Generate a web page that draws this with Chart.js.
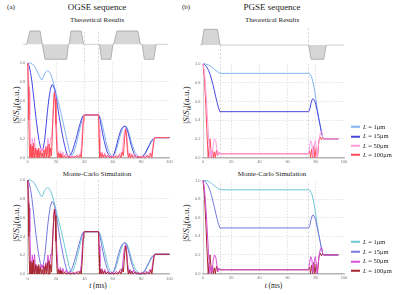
<!DOCTYPE html>
<html>
<head>
<meta charset="utf-8">
<script src="https://cdn.jsdelivr.net/npm/chart.js@4.4.1/dist/chart.umd.min.js"></script>
<style>
  body { margin:0; width:400px; height:295px; background:#fff; position:relative; overflow:hidden; font-family:"Liberation Serif", "DejaVu Serif", serif; color:#222; }
  canvas { position:absolute; }
  .txt { position:absolute; white-space:nowrap; line-height:1; transform:translate(-50%,-50%); }
  .ytitle { position:absolute; white-space:nowrap; line-height:1; font-size:9px; transform:translate(-50%,-50%) rotate(-90deg); }
  .ytitle sub { font-size:70%; line-height:0; }
  .leg { position:absolute; left:351px; font-size:6.5px; line-height:1; display:flex; align-items:center; transform:translateY(-50%); white-space:nowrap; }
  .sw { display:inline-block; width:9px; height:2px; margin-right:3px; }
</style>
</head>
<body>
<div class="txt" style="left:11px;top:7px;font-size:7px">(a)</div>
<div class="txt" style="left:186px;top:7px;font-size:7px">(b)</div>
<div class="txt" style="left:97px;top:7px;font-size:9px">OGSE sequence</div>
<div class="txt" style="left:272px;top:7px;font-size:9px">PGSE sequence</div>
<div class="txt" style="left:97px;top:20px;font-size:7px">Theoretical Results</div>
<div class="txt" style="left:272px;top:20px;font-size:7px">Theoretical Results</div>
<div class="txt" style="left:97px;top:174px;font-size:7px">Monte-Carlo Simulation</div>
<div class="txt" style="left:272px;top:174px;font-size:7px">Monte-Carlo Simulation</div>
<div class="ytitle" style="left:15.5px;top:105px">|<i>S</i>/<i>S</i><sub>0</sub>|(a.u.)</div>
<div class="ytitle" style="left:15.5px;top:223px">|<i>S</i>/<i>S</i><sub>0</sub>|(a.u.)</div>
<div class="ytitle" style="left:186px;top:105px">|<i>S</i>/<i>S</i><sub>0</sub>|(a.u.)</div>
<div class="ytitle" style="left:186px;top:223px">|<i>S</i>/<i>S</i><sub>0</sub>|(a.u.)</div>
<div class="txt" style="left:98px;top:286px;font-size:7.5px"><i>t</i> (ms)</div>
<div class="txt" style="left:273.5px;top:286px;font-size:7.5px"><i>t</i> (ms)</div>

<canvas id="seqA" width="148" height="36" style="left:22px;top:26px"></canvas>
<canvas id="seqB" width="146" height="36" style="left:200px;top:26px"></canvas>
<canvas id="ogseTh" width="180" height="115" style="left:0px;top:55px"></canvas>
<canvas id="pgseTh" width="175" height="115" style="left:180px;top:55px"></canvas>
<canvas id="ogseMc" width="180" height="125" style="left:0px;top:170px"></canvas>
<canvas id="pgseMc" width="175" height="125" style="left:180px;top:170px"></canvas>

<script>
// ticks and labels
const xTicks = [0, 20, 40, 60, 80, 100];
const yTicks = [0, 0.2, 0.4, 0.6, 0.8, 1.0];
const yTickLabels = ['0.0', '0.2', '0.4', '0.6', '0.8', '1.0'];
const lengths = ['1μm', '15μm', '50μm', '100μm'];

const theoryColors = ['#80b3f2', '#4747e0', '#ff9ddf', '#ff4b55'];
const mcColors = ['#6cc7d4', '#7777de', '#d84fd8', '#a8262e'];

// gradient waveforms (t in ms, amplitude a.u.)
const ogseSeqT = [-3.1, -0.7, 1.6, 8.7, 10.3, 12.2, 27.5, 28.7, 29.2, 30.6, 37.7, 39.4, 50.7, 52, 58.6, 60.1, 60.6, 63, 77.6, 79.5, 80.7, 82.3, 88.9, 90.6, 99];
const ogseSeqG = [0, 0, 0.95, 0.95, 0, -1.07, -1.07, 0, 0, 0.95, 0.95, 0, 0, -1.07, -1.07, 0, 0, 0.95, 0.95, 0, 0, -1.07, -1.07, 0, 0];
const pgseSeqT = [-2.1, -0.9, 0.7, 10.2, 12.1, 74.9, 76.6, 85.6, 87.4, 100];
const pgseSeqG = [0, 0, 1.12, 1.12, 0, 0, -1.02, -1.02, 0, 0];
// dashed markers: [t, from, to]
const ogseSeqMarks = [[40, 0.9, -1.3], [50, 0.9, -1.3]];
const pgseSeqMarks = [[12.4, 0, -1.25], [74.8, 1.2, 0]];
const ogseMarks = [50];
const pgseMarks = [12.4, 74.8];

// OGSE |S/S0|, [t, value]
const ogseL1 = [[0,1],[2,1],[3,0.99],[4,0.98],[5,0.96],[6,0.93],[7,0.9],[8,0.87],[9,0.84],[10,0.82],[11,0.85],[12,0.89],[13,0.91],[14,0.92],[15,0.91],[16,0.89],[17,0.85],[18,0.8],[19,0.74],[20,0.68],[21,0.62],[22,0.56],[23,0.5],[24,0.44],[25,0.37],[26,0.3],[27,0.23],[28,0.16],[29,0.09],[30,0.04],[31,0.02],[32,0.04],[33,0.08],[34,0.13],[35,0.19],[36,0.25],[37,0.32],[38,0.38],[39,0.43],[40,0.45],[50,0.45],[51,0.43],[52,0.38],[53,0.32],[54,0.25],[55,0.18],[56,0.12],[57,0.07],[58,0.04],[59,0.02],[60,0.01],[61,0.03],[62,0.06],[63,0.11],[64,0.16],[65,0.22],[66,0.27],[67,0.31],[68,0.33],[69,0.33],[70,0.32],[71,0.28],[72,0.23],[73,0.17],[74,0.12],[75,0.08],[76,0.05],[77,0.03],[78,0.01],[79,0],[80,0],[81,0.01],[82,0.02],[83,0.04],[84,0.07],[85,0.1],[86,0.13],[87,0.16],[88,0.18],[89,0.2],[90,0.21],[100,0.21]];
const ogseL15 = [[0,1],[1,0.97],[2,0.9],[3,0.8],[4,0.67],[5,0.53],[6,0.4],[7,0.28],[8,0.18],[9,0.11],[10,0.07],[11,0.1],[12,0.19],[13,0.34],[14,0.5],[15,0.63],[16,0.72],[17,0.77],[18,0.76],[19,0.72],[20,0.64],[21,0.55],[22,0.45],[23,0.36],[24,0.28],[25,0.2],[26,0.13],[27,0.07],[28,0.02],[29,0],[30,0.02],[31,0.05],[32,0.09],[33,0.14],[34,0.19],[35,0.25],[36,0.31],[37,0.36],[38,0.41],[39,0.44],[40,0.45],[50,0.45],[51,0.4],[52,0.32],[53,0.24],[54,0.17],[55,0.11],[56,0.06],[57,0.03],[58,0.01],[59,0],[60,0.01],[61,0.04],[62,0.09],[63,0.15],[64,0.21],[65,0.26],[66,0.3],[67,0.32],[68,0.33],[69,0.33],[70,0.3],[71,0.25],[72,0.19],[73,0.13],[74,0.08],[75,0.04],[76,0.02],[77,0.01],[78,0],[80,0],[81,0.01],[82,0.03],[83,0.05],[84,0.08],[85,0.11],[86,0.14],[87,0.17],[88,0.19],[89,0.2],[90,0.21],[100,0.21]];
const ogseL50 = [[0,1],[0.5,0.9],[1,0.7],[1.5,0.45],[2,0.2],[2.6,0.02],[3.3,0.2],[4,0.02],[4.8,0.21],[5.6,0.03],[6.3,0.1],[7,0.01],[7.8,0.08],[8.6,0.02],[9.4,0.1],[10.2,0.06],[11,0.1],[11.8,0.02],[12.6,0.12],[13.4,0.03],[14.3,0.2],[15.2,0.05],[16.2,0.21],[17,0.2],[17.8,0.45],[18.6,0.66],[19.2,0.68],[19.8,0.5],[20.6,0.25],[21.4,0.06],[22.2,0.01],[23,0.07],[23.8,0.01],[24.8,0.06],[25.8,0.01],[27,0.04],[28.2,0],[29.5,0.03],[31,0],[32.5,0.02],[34,0],[35.5,0.03],[36.8,0.01],[37.8,0.1],[38.6,0.3],[39.3,0.43],[40,0.45],[50,0.45],[50.4,0.3],[50.9,0.08],[51.5,0.01],[52.3,0.06],[53.2,0],[54.3,0.05],[55.4,0],[56.6,0.03],[58,0],[59.5,0.02],[61,0],[62.5,0.03],[64,0],[65.3,0.05],[66.5,0.02],[67.3,0.15],[68.2,0.28],[69,0.31],[69.8,0.24],[70.6,0.1],[71.4,0.01],[72.3,0.05],[73.2,0],[74.5,0.04],[76,0],[77.5,0.02],[79,0],[80.5,0.02],[82,0],[83.5,0.03],[85,0],[86.3,0.05],[87.3,0.03],[88.2,0.12],[89,0.2],[89.6,0.21],[100,0.21]];
const ogseL100 = [[0,1],[0.4,0.75],[0.8,0.4],[1.2,0.1],[1.6,0],[2.1,0.14],[2.6,0],[3.1,0.12],[3.6,0],[4.2,0.15],[4.8,0],[5.4,0.1],[6,0],[6.6,0.08],[7.2,0],[7.8,0.1],[8.4,0],[9,0.07],[9.6,0],[10.2,0.05],[10.8,0],[11.4,0.08],[12,0],[12.6,0.1],[13.2,0],[13.8,0.12],[14.4,0],[15,0.14],[15.6,0],[16.2,0.1],[16.8,0.02],[17.5,0.3],[18.2,0.55],[18.8,0.69],[19.3,0.62],[19.9,0.35],[20.5,0.1],[21,0],[21.6,0.05],[22.2,0],[22.8,0.04],[23.4,0],[24.2,0.03],[25,0],[26,0.02],[27,0],[28.5,0.01],[30,0],[31.5,0.01],[33,0],[34.5,0.02],[36,0],[37,0.03],[37.8,0],[38.5,0.15],[39.2,0.38],[39.7,0.45],[50,0.45],[50.3,0.2],[50.7,0],[51.3,0.05],[51.9,0],[52.6,0.04],[53.3,0],[54.2,0.03],[55.1,0],[56.3,0.02],[57.5,0],[59,0.01],[60.5,0],[62,0.01],[63.5,0],[64.8,0.03],[65.8,0],[66.7,0.06],[67.5,0.02],[68.3,0.2],[69.1,0.3],[69.7,0.22],[70.4,0.05],[71,0],[71.7,0.04],[72.4,0],[73.3,0.03],[74.2,0],[75.5,0.02],[77,0],[78.5,0.01],[80,0],[81.5,0.01],[83,0],[84.5,0.02],[85.8,0],[86.8,0.04],[87.6,0],[88.4,0.1],[89.2,0.19],[89.8,0.21],[100,0.21]];

// PGSE |S/S0|, [t, value]
const pgseL1 = [[0,1],[2,1],[4,0.99],[6,0.97],[8,0.945],[10,0.92],[11,0.91],[12,0.9],[75,0.9],[76,0.89],[77,0.86],[78,0.81],[79,0.73],[80,0.63],[81,0.52],[82,0.43],[83,0.35],[84,0.27],[85,0.21],[85.5,0.2],[96,0.2]];
const pgseL15 = [[0,1],[1,0.995],[2,0.98],[3,0.96],[4,0.93],[5,0.89],[6,0.84],[7,0.78],[8,0.72],[9,0.65],[10,0.59],[11,0.53],[12,0.49],[75,0.49],[75.8,0.52],[76.6,0.58],[77.4,0.62],[78.2,0.63],[79,0.61],[80,0.57],[81,0.5],[82,0.42],[83,0.35],[84,0.27],[85,0.21],[85.5,0.2],[96,0.2]];
const pgseL50 = [[0,1],[1,0.92],[2,0.72],[3,0.47],[4,0.2],[4.8,0],[5.6,0.08],[6.3,0.01],[7.3,0.15],[8.2,0.2],[9,0.18],[9.8,0.1],[10.5,0.02],[11.2,0.06],[12,0.04],[75,0.04],[75.6,0.12],[76.4,0.18],[77.2,0.15],[78,0.01],[78.8,0.12],[79.6,0.18],[80.4,0.1],[81,0],[81.8,0.12],[82.6,0.22],[83.4,0.27],[84.2,0.28],[85,0.21],[85.5,0.2],[96,0.2]];
const pgseL100 = [[0,1],[1,0.85],[2,0.55],[3,0.2],[3.7,0],[4.3,0.12],[4.9,0.2],[5.5,0.1],[6.1,0],[6.8,0.08],[7.5,0],[8.2,0.06],[8.8,0],[9.6,0.08],[10.4,0.02],[11.2,0.05],[12,0.04],[75,0.04],[75.6,0.07],[76.3,0],[77,0.09],[77.8,0],[78.6,0.12],[79.4,0],[80.3,0.1],[81.2,0],[82.2,0.18],[83.2,0.22],[84,0.19],[84.7,0.21],[85.5,0.2],[96,0.2]];

function pts(pairs) {
    return pairs.map(p => ({ x: p[0], y: p[1] }));
}

// gradient waveform chart, no axes
function seqChart(id, ts, gs, marks, xr, yr) {
    const datasets = [{
        data: ts.map((t, i) => ({ x: t, y: gs[i] })),
        fill: 'origin',
        backgroundColor: '#d6d6d6',
        borderWidth: 0.8,
        segment: {
            borderColor: c => (c.p0.parsed.y === 0 && c.p1.parsed.y === 0) ? '#c4c4c4' : '#a2a2a2'
        },
        pointRadius: 0,
        order: 1
    }];
    marks.forEach(m => datasets.push({
        data: [{ x: m[0], y: m[1] }, { x: m[0], y: m[2] }],
        borderColor: '#c2c2c2',
        borderWidth: 0.7,
        borderDash: [2, 2],
        pointRadius: 0,
        order: 2
    }));
    return new Chart(document.getElementById(id), {
        type: 'line',
        data: { datasets },
        options: {
            responsive: false,
            animation: false,
            layout: { padding: 0, autoPadding: false },
            plugins: { legend: { display: false }, tooltip: { enabled: false } },
            scales: {
                x: { type: 'linear', display: false, min: xr[0], max: xr[1] },
                y: { display: false, min: yr[0], max: yr[1] }
            }
        }
    });
}

// lower order is drawn on top
function plotChart(id, curves, colors, orders, marks, box) {
    const datasets = curves.map((c, i) => ({
        label: 'L = ' + lengths[i],
        data: pts(c),
        borderColor: colors[i],
        backgroundColor: colors[i],
        borderWidth: 1,
        pointRadius: 0,
        order: orders[i],
        clip: 3
    }));
    marks.forEach(t => datasets.push({
        label: '',
        data: [{ x: t, y: 0 }, { x: t, y: 1 }],
        borderColor: '#c6c6c6',
        borderWidth: 0.7,
        borderDash: [2, 2],
        pointRadius: 0,
        order: 10
    }));
    const tickFont = { size: 4, family: 'Liberation Sans' };
    return new Chart(document.getElementById(id), {
        type: 'line',
        data: { datasets },
        options: {
            responsive: false,
            animation: false,
            layout: { padding: { top: box.top, right: box.right, left: 0, bottom: 0 }, autoPadding: false },
            plugins: { legend: { display: false }, tooltip: { enabled: false } },
            scales: {
                x: {
                    type: 'linear', min: 0, max: 100,
                    afterBuildTicks: s => { s.ticks = xTicks.map(v => ({ value: v })); },
                    afterFit: s => { s.height = box.xh; },
                    ticks: { padding: 2.3, color: '#777', font: tickFont, maxRotation: 0, autoSkip: false },
                    grid: {
                        drawTicks: false, lineWidth: 0.6,
                        color: c => (c.tick && (c.tick.value === 0 || c.tick.value === 100)) ? 'rgba(0,0,0,0)' : '#d2d2d2'
                    },
                    border: { color: '#b3b3b3', width: 1.5, dash: [1.5, 1.5] }
                },
                y: {
                    min: 0, max: 1,
                    afterBuildTicks: s => { s.ticks = yTicks.map(v => ({ value: v })); },
                    afterFit: s => { s.width = box.yw; },
                    ticks: { padding: 2.5, color: '#777', font: tickFont, autoSkip: false, callback: (v, i) => yTickLabels[i] },
                    grid: {
                        drawTicks: false, lineWidth: 0.6,
                        color: c => (c.tick && (c.tick.value === 0 || c.tick.value === 1)) ? 'rgba(0,0,0,0)' : '#d2d2d2'
                    },
                    border: { color: '#cacaca', width: 0.8, dash: [1.5, 1.5] }
                }
            }
        }
    });
}

function buildLegend(chart, top, step) {
    chart.data.datasets.filter(d => d.label).forEach((d, i) => {
        const row = document.createElement('div');
        row.className = 'leg';
        row.style.top = (top + i * step) + 'px';
        row.innerHTML = '<span class="sw" style="background:' + d.borderColor + '"></span><i>L</i>&nbsp;=&nbsp;' + lengths[i];
        document.body.appendChild(row);
    });
}

seqChart('seqA', ogseSeqT, ogseSeqG, ogseSeqMarks, [-4.02, 100.35], [-1.264, 1.307]);
seqChart('seqB', pgseSeqT, pgseSeqG, pgseSeqMarks, [-2.13, 101.4], [-1.214, 1.357]);

const ogseOrder = [4, 3, 2, 1];
const pgseOrder = [4, 3, 1, 2];
plotChart('ogseTh', [ogseL1, ogseL15, ogseL50, ogseL100], theoryColors, ogseOrder, ogseMarks, { top: 8, right: 10.5, yw: 27.7, xh: 12.5 });
const pgseTh = plotChart('pgseTh', [pgseL1, pgseL15, pgseL50, pgseL100], theoryColors, pgseOrder, pgseMarks, { top: 9, right: 11, yw: 23, xh: 12.5 });
plotChart('ogseMc', [ogseL1, ogseL15, ogseL50, ogseL100], mcColors, ogseOrder, ogseMarks, { top: 10, right: 10.5, yw: 27.7, xh: 21 });
const pgseMc = plotChart('pgseMc', [pgseL1, pgseL15, pgseL50, pgseL100], mcColors, pgseOrder, pgseMarks, { top: 10.5, right: 11, yw: 23, xh: 21.5 });

buildLegend(pgseTh, 127, 9.3);
buildLegend(pgseMc, 242, 9.7);
</script>
</body>
</html>
